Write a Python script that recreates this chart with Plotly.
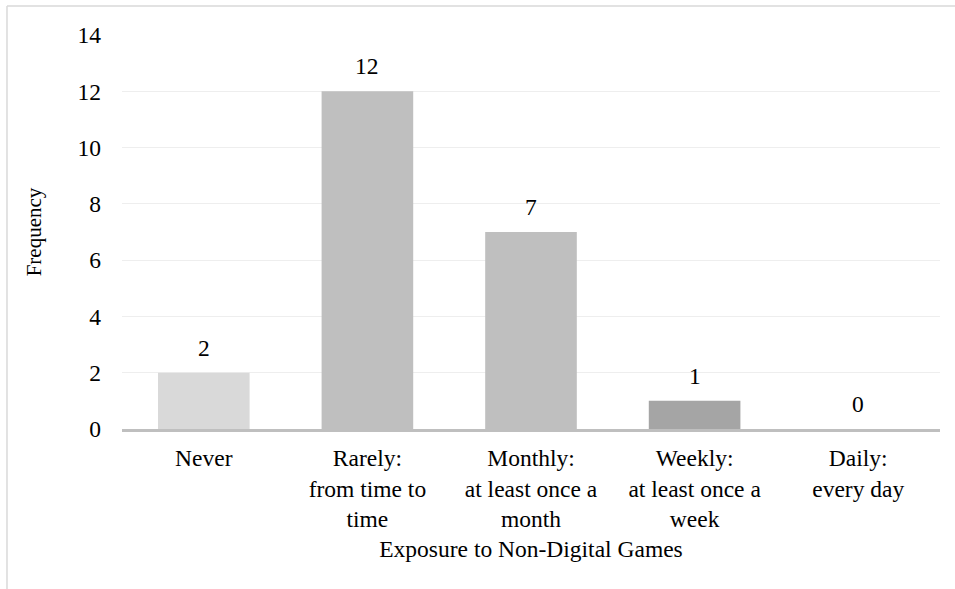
import plotly.graph_objects as go

categories = ["Never", "Rarely:<br>from time to<br>time", "Monthly:<br>at least once a<br>month",
              "Weekly:<br>at least once a<br>week", "Daily:<br>every day"]
frequency = [2, 12, 7, 1, 0]
bar_colors = ["#d9d9d9", "#bfbfbf", "#bfbfbf", "#a5a5a5", "#a5a5a5"]
y_ticks = [0, 2, 4, 6, 8, 10, 12, 14]

FONT = "Liberation Serif, Times New Roman, serif"
FS = 23.5

fig = go.Figure(go.Bar(
    x=categories, y=frequency, marker=dict(color=bar_colors, line=dict(width=0)),
    cliponaxis=False,
))

for c, v in zip(categories, frequency):
    fig.add_annotation(x=c, y=v, text=str(v), showarrow=False, yshift=25,
                       font=dict(family=FONT, size=FS, color="#000000"))

fig.update_layout(
    width=955, height=589,
    margin=dict(l=122, r=15, t=35, b=160),
    paper_bgcolor="white", plot_bgcolor="white",
    bargap=0.44, showlegend=False,
    font=dict(family=FONT, size=FS, color="#000000"),
    xaxis=dict(
        title=dict(text="Exposure to Non-Digital Games", font=dict(size=FS), standoff=10),
        showline=True, linecolor="#bfbfbf", linewidth=2.5, showgrid=False,
        ticks="", tickfont=dict(size=FS), ticklabelstandoff=6,
    ),
    yaxis=dict(
        title=dict(text="Frequency", font=dict(size=21), standoff=30),
        range=[0, 14], tickvals=y_ticks, showgrid=True, gridcolor="#eeeeee", gridwidth=1.2,
        zeroline=False, showline=False, ticks="", ticklabelstandoff=20,
        tickfont=dict(size=FS),
    ),
    shapes=[
        dict(type="line", xref="paper", yref="paper", x0=-0.1406, x1=1.1, y0=1.0736, y1=1.0736,
             line=dict(color="#d9d9d9", width=1.5)),
        dict(type="line", xref="paper", yref="paper", x0=-0.1406, x1=-0.1406, y0=1.0736, y1=-0.45,
             line=dict(color="#d9d9d9", width=1.5)),
    ],
)

fig.write_html("out.html")
